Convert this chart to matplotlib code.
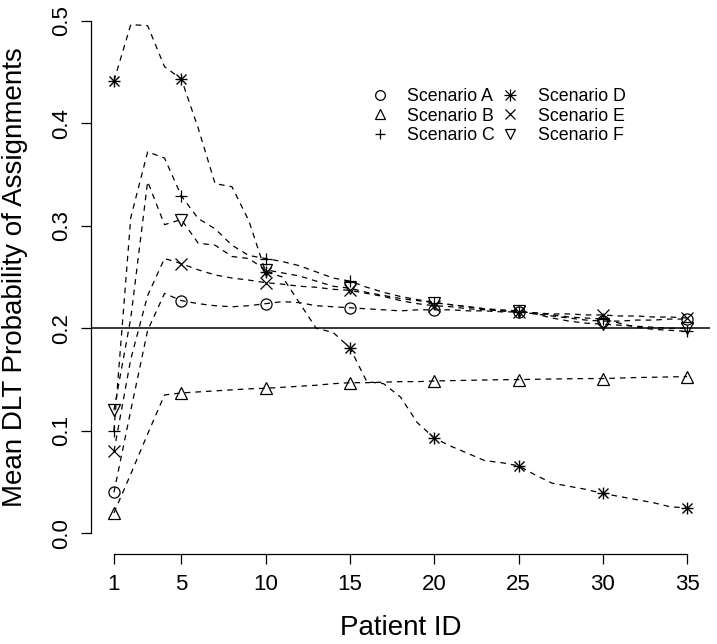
import matplotlib
matplotlib.use("Agg")
import matplotlib.pyplot as plt
from matplotlib.lines import Line2D
from matplotlib.legend_handler import HandlerTuple

plt.rcParams['font.family'] = ['Liberation Sans', 'DejaVu Sans']

patients = list(range(1, 36))
marker_ids = [1, 5, 10, 15, 20, 25, 30, 35]

scen_a = [0.040, 0.120, 0.198, 0.234, 0.227, 0.224, 0.222, 0.221, 0.222, 0.224,
          0.226, 0.225, 0.222, 0.221, 0.220, 0.219, 0.218, 0.217, 0.218, 0.218,
          0.218, 0.217, 0.217, 0.216, 0.216, 0.214, 0.212, 0.210, 0.208, 0.207,
          0.207, 0.208, 0.208, 0.209, 0.209]
scen_b = [0.020, 0.058, 0.097, 0.135, 0.137, 0.138, 0.139, 0.140, 0.141, 0.1415,
          0.1425, 0.1435, 0.1445, 0.146, 0.147, 0.147, 0.1475, 0.148, 0.148, 0.1486,
          0.149, 0.1493, 0.1496, 0.1499, 0.150, 0.1503, 0.1506, 0.1508, 0.151, 0.151,
          0.1515, 0.152, 0.1523, 0.1526, 0.153]
scen_c = [0.100, 0.308, 0.372, 0.366, 0.329, 0.307, 0.297, 0.281, 0.271, 0.268,
          0.265, 0.261, 0.255, 0.249, 0.246, 0.240, 0.235, 0.231, 0.228, 0.225,
          0.223, 0.221, 0.219, 0.217, 0.216, 0.215, 0.213, 0.211, 0.210, 0.209,
          0.205, 0.201, 0.199, 0.198, 0.197]
scen_d = [0.441, 0.496, 0.495, 0.455, 0.443, 0.395, 0.341, 0.338, 0.305, 0.255,
          0.250, 0.225, 0.200, 0.196, 0.181, 0.148, 0.146, 0.133, 0.108, 0.093,
          0.085, 0.078, 0.071, 0.069, 0.066, 0.057, 0.049, 0.046, 0.043, 0.039,
          0.036, 0.033, 0.030, 0.026, 0.025]
scen_e = [0.080, 0.170, 0.232, 0.268, 0.263, 0.257, 0.252, 0.249, 0.247, 0.2445,
          0.243, 0.241, 0.240, 0.238, 0.237, 0.234, 0.231, 0.227, 0.224, 0.222,
          0.221, 0.219, 0.218, 0.217, 0.216, 0.215, 0.214, 0.214, 0.213, 0.213,
          0.212, 0.212, 0.211, 0.211, 0.210]
scen_f = [0.120, 0.210, 0.343, 0.301, 0.306, 0.283, 0.281, 0.270, 0.268, 0.257,
          0.254, 0.251, 0.246, 0.241, 0.239, 0.235, 0.232, 0.229, 0.227, 0.225,
          0.223, 0.221, 0.219, 0.218, 0.217, 0.214, 0.210, 0.207, 0.205, 0.204,
          0.203, 0.202, 0.201, 0.200, 0.200]

labels = ["Scenario A", "Scenario B", "Scenario C", "Scenario D", "Scenario E", "Scenario F"]
series = [scen_a, scen_b, scen_c, scen_d, scen_e, scen_f]
markers = ["o", "^", "+", "*", "x", "v"]
target = 0.2
x_ticks = [1, 5, 10, 15, 20, 25, 30, 35]
y_ticks = [0.0, 0.1, 0.2, 0.3, 0.4, 0.5]

W, H = 717, 644
fig = plt.figure(figsize=(W / 100, H / 100), dpi=100)
ax_l, ax_r, ax_t, ax_b = 91, 710, 0, 554
ax = fig.add_axes([ax_l / W, 1 - ax_b / H, (ax_r - ax_l) / W, (ax_b - ax_t) / H])

dash = (0, (4.5, 4.0))
lw = 0.9
ms = 8
handles = []
for vals, mk, lab in zip(series, markers, labels):
    ax.plot(patients, vals, linestyle=dash, color="black", lw=lw)
    mx = [p for p in patients if p in marker_ids]
    my = [v for p, v in zip(patients, vals) if p in marker_ids]
    if mk == "*":
        ax.plot(mx, my, linestyle="none", marker="+", ms=ms + 1, mew=1.0, color="black")
        ax.plot(mx, my, linestyle="none", marker="x", ms=ms - 1, mew=1.0, color="black")
        h = (Line2D([], [], linestyle="none", marker="+", ms=8, mew=0.9, color="black"),
             Line2D([], [], linestyle="none", marker="x", ms=6.5, mew=0.9, color="black"))
    else:
        ax.plot(mx, my, linestyle="none", marker=mk, ms=ms, mew=0.9,
                mfc="none", mec="black", color="black")
        h = Line2D([], [], linestyle="none", marker=mk, ms=7, mew=0.9,
                   mfc="none", mec="black", color="black")
    handles.append(h)

ax.axhline(target, color="black", lw=1.1)

ax.set_xlim(1 - 0.04 * 34, 35 + 0.04 * 34)
ax.set_ylim(-0.02, 0.52)
ax.set_xticks(x_ticks)
ax.set_yticks(y_ticks)
ax.set_yticklabels([f"{v:.1f}" for v in y_ticks])
ax.tick_params(axis="both", length=7.5, width=0.9, labelsize=16)
ax.tick_params(axis="x", pad=7)
ax.tick_params(axis="y", pad=6, labelrotation=90)
for lab in ax.get_yticklabels():
    lab.set_va("center")
for s in ["top", "right"]:
    ax.spines[s].set_visible(False)
ax.spines["left"].set_bounds(0, 0.5)
ax.spines["bottom"].set_bounds(1, 35)
for s in ["left", "bottom"]:
    ax.spines[s].set_linewidth(0.9)

ax.set_xlabel("Patient ID", fontsize=20)
ax.set_ylabel("Mean DLT Probability of Assignments", fontsize=20)
ax.xaxis.label.set_va("center")
ax.yaxis.label.set_va("center")
ax.xaxis.set_label_coords(0.5, -(628 - ax_b) / (ax_b - ax_t))
ax.yaxis.set_label_coords((15 - ax_l) / (ax_r - ax_l), 0.5)

leg = ax.legend(handles, labels, ncol=2, loc="upper left",
                bbox_to_anchor=((371 - ax_l) / (ax_r - ax_l), 1 - 88 / (ax_b - ax_t)),
                frameon=False, fontsize=12.8, handlelength=1.0,
                handletextpad=1.05, columnspacing=0.35, labelspacing=0.15,
                borderpad=0, borderaxespad=0,
                handler_map={tuple: HandlerTuple(ndivide=1, pad=0)})

fig.savefig("out.png", dpi=100)
